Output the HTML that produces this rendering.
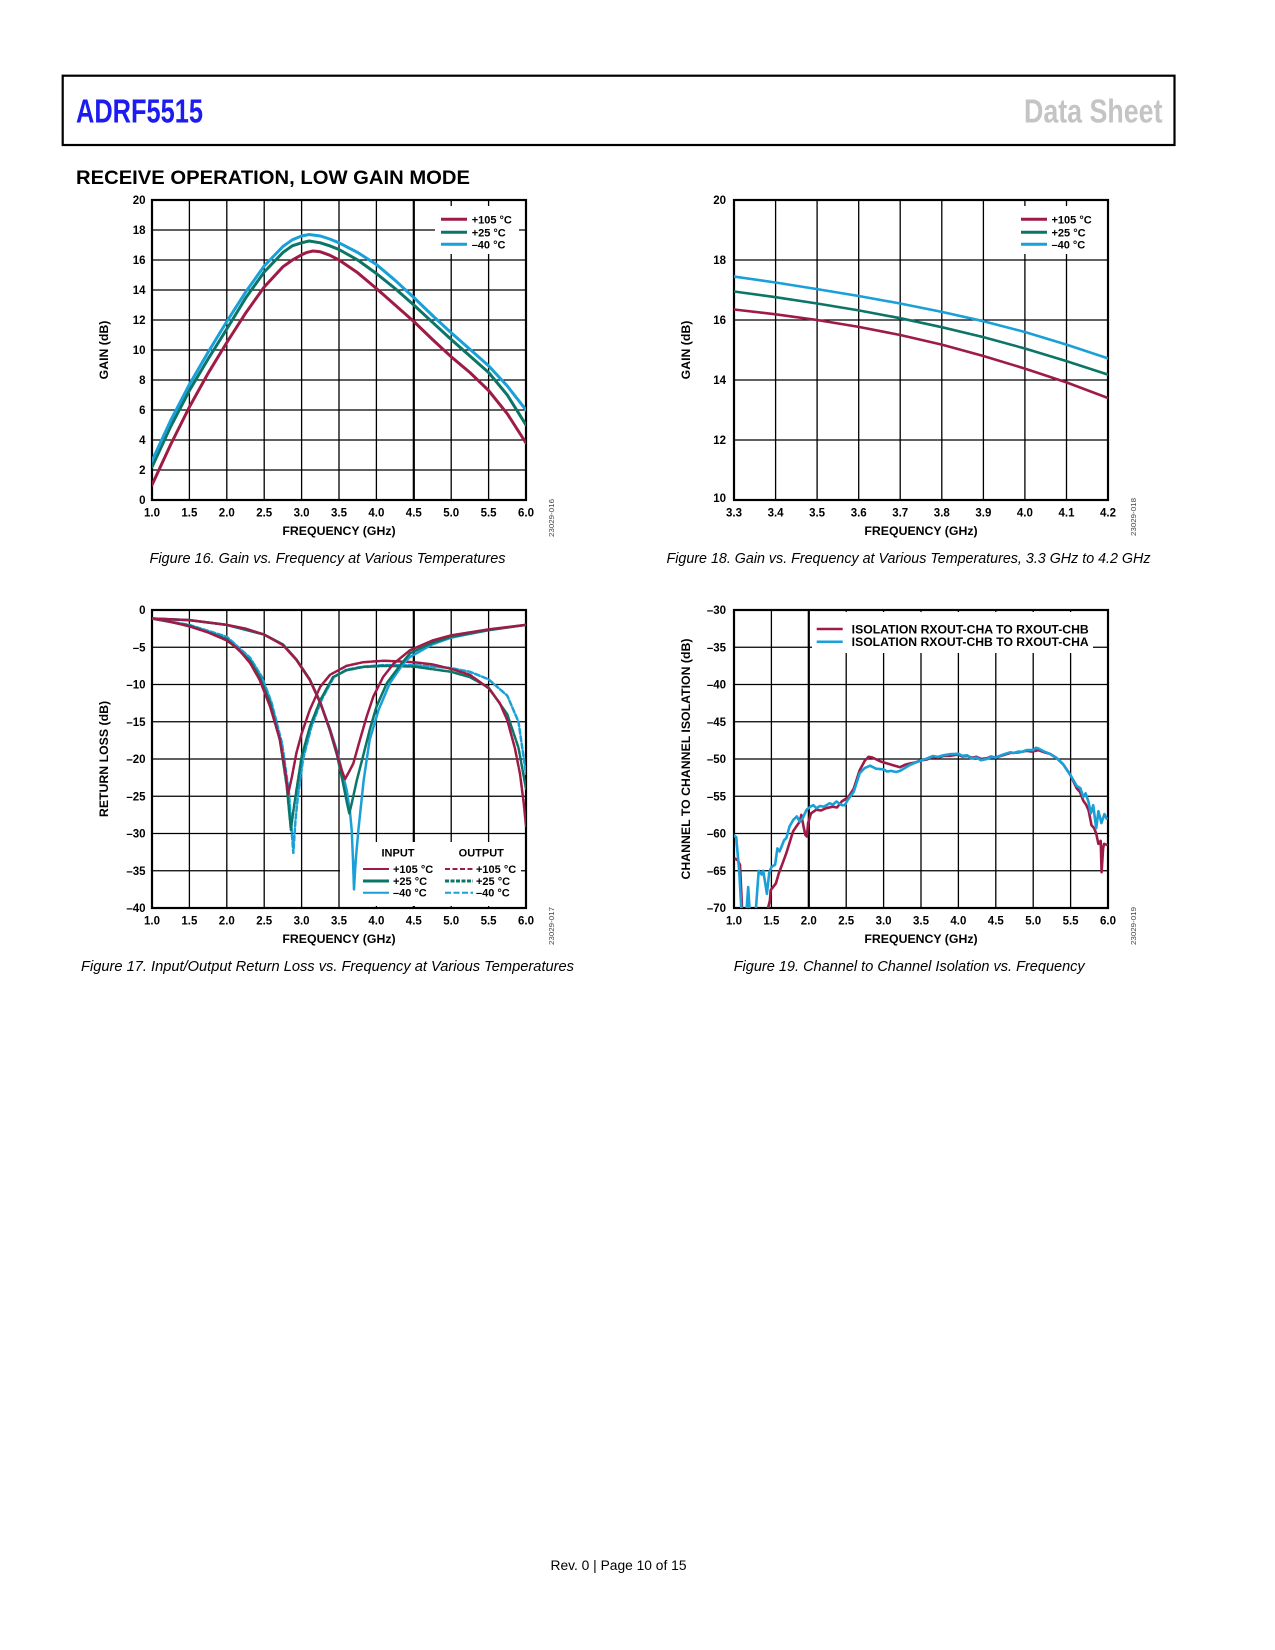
<!DOCTYPE html>
<html>
<head>
<meta charset="utf-8">
<style>
html,body{margin:0;padding:0;background:#fff;}
svg{display:block;}
text{font-family:"Liberation Sans",Arial,sans-serif;}
.tk{font-size:11.5px;font-weight:bold;fill:#000;}
.ax{font-size:12.3px;font-weight:bold;fill:#000;}
.lg{font-size:11px;font-weight:bold;fill:#000;}
.lg2{font-size:12px;font-weight:bold;fill:#000;}
.cap{font-size:14.5px;font-style:italic;fill:#000;}
.id{font-size:7.5px;fill:#444;}
.g{stroke:#000;stroke-width:1.3;fill:none;}
.gt{stroke:#000;stroke-width:2.2;fill:none;}
.fr{stroke:#000;stroke-width:2.2;fill:none;}
.c{fill:none;stroke-linejoin:round;stroke-linecap:round;}
</style>
</head>
<body>
<svg width="1275" height="1650" viewBox="0 0 1275 1650" xmlns="http://www.w3.org/2000/svg">
<defs>
<clipPath id="cp16"><rect x="152" y="200" width="374" height="300"/></clipPath>
<clipPath id="cp17"><rect x="152" y="610" width="374" height="298"/></clipPath>
<clipPath id="cp18"><rect x="734" y="200" width="374" height="300"/></clipPath>
<clipPath id="cp19"><rect x="734" y="610" width="374" height="298"/></clipPath>
</defs>
<rect x="0" y="0" width="1275" height="1650" fill="#fff"/>

<!-- Header -->
<rect x="62.7" y="75.7" width="1111.8" height="69.3" fill="none" stroke="#000" stroke-width="2.2"/>
<text x="76" y="122.7" font-size="33.5" font-weight="bold" fill="#1c1cf0" textLength="127" lengthAdjust="spacingAndGlyphs">ADRF5515</text>
<text x="1024" y="122.7" font-size="33.5" font-weight="bold" fill="#c4c4c4" textLength="138.5" lengthAdjust="spacingAndGlyphs">Data Sheet</text>
<text x="76" y="184" font-size="19" font-weight="bold" fill="#000" textLength="394" lengthAdjust="spacingAndGlyphs">RECEIVE OPERATION, LOW GAIN MODE</text>

<!-- ================= FIGURE 16 ================= -->
<g>
<path class="g" d="M189.4,200V500M226.8,200V500M264.2,200V500M301.6,200V500M339,200V500M376.4,200V500M451.2,200V500M488.6,200V500
M152,230H526M152,260H526M152,290H526M152,320H526M152,350H526M152,380H526M152,410H526M152,440H526M152,470H526"/>
<path class="gt" d="M413.8,200V500"/>
<rect x="435" y="206" width="84" height="48" fill="#fff"/>
<rect class="fr" x="152" y="200" width="374" height="300"/>
<g clip-path="url(#cp16)">
<polyline class="c" stroke="#9e1b46" stroke-width="3" points="152,485 170.7,444.5 189.4,407 208.1,373.3 226.8,342.5 245.5,313.3 264.2,287 282.9,266.8 292.3,260.1 301.6,254.8 307,252.4 312.8,251 320.3,251.8 329.7,255.2 339,260 357.7,272.8 376.4,288.5 395.1,305 413.8,321.5 432.5,339.5 451.2,356.8 469.9,372.5 488.6,390.5 507.3,413.8 526,443"/>
<polyline class="c" stroke="#0b7567" stroke-width="3" points="152,467 170.7,426.5 189.4,390.5 208.1,359 226.8,329 245.5,298.3 264.2,272 282.9,252.5 292.3,245.8 301.6,242.8 309.1,241 320.3,242.8 329.7,245.8 339,249.5 357.7,260 376.4,273.5 395.1,288.5 413.8,305 432.5,322.3 451.2,339.5 469.9,356 488.6,372.5 507.3,395 526,425"/>
<polyline class="c" stroke="#19a0d8" stroke-width="3" points="152,461 170.7,420.5 189.4,384.5 208.1,352.3 226.8,321.5 245.5,292.3 264.2,266 282.9,246.5 292.3,239.8 301.6,236 309.1,234.5 320.3,236 329.7,239 339,242.8 357.7,252.5 376.4,264.5 395.1,280.3 413.8,297.5 432.5,315.5 451.2,332.8 469.9,349.3 488.6,365.8 507.3,386 526,410"/>
</g>
<line x1="441" y1="219.3" x2="467" y2="219.3" stroke="#9e1b46" stroke-width="3"/>
<line x1="441" y1="232.3" x2="467" y2="232.3" stroke="#0b7567" stroke-width="3"/>
<line x1="441" y1="244.3" x2="467" y2="244.3" stroke="#19a0d8" stroke-width="3"/>
<text class="lg" x="471.7" y="223.3">+105 °C</text>
<text class="lg" x="471.7" y="236.3">+25 °C</text>
<text class="lg" x="471.7" y="248.3">–40 °C</text>
<g class="tk" text-anchor="end">
<text x="145.5" y="204">20</text><text x="145.5" y="234">18</text><text x="145.5" y="264">16</text><text x="145.5" y="294">14</text><text x="145.5" y="324">12</text><text x="145.5" y="354">10</text><text x="145.5" y="384">8</text><text x="145.5" y="414">6</text><text x="145.5" y="444">4</text><text x="145.5" y="474">2</text><text x="145.5" y="504">0</text>
</g>
<g class="tk" text-anchor="middle">
<text x="152" y="516.5">1.0</text><text x="189.4" y="516.5">1.5</text><text x="226.8" y="516.5">2.0</text><text x="264.2" y="516.5">2.5</text><text x="301.6" y="516.5">3.0</text><text x="339" y="516.5">3.5</text><text x="376.4" y="516.5">4.0</text><text x="413.8" y="516.5">4.5</text><text x="451.2" y="516.5">5.0</text><text x="488.6" y="516.5">5.5</text><text x="526" y="516.5">6.0</text>
</g>
<text class="ax" x="339" y="535" text-anchor="middle">FREQUENCY (GHz)</text>
<text class="ax" transform="translate(108,350) rotate(-90)" text-anchor="middle">GAIN (dB)</text>
<text class="id" transform="translate(554,537) rotate(-90)" textLength="38" lengthAdjust="spacingAndGlyphs">23029-016</text>
<text class="cap" x="149.5" y="563" textLength="356" lengthAdjust="spacingAndGlyphs">Figure 16. Gain vs. Frequency at Various Temperatures</text>
</g>

<!-- ================= FIGURE 18 ================= -->
<g>
<path class="g" d="M775.6,200V500M817.1,200V500M858.7,200V500M900.2,200V500M941.8,200V500M983.4,200V500M1024.9,200V500M1066.5,200V500
M734,260H1108M734,320H1108M734,380H1108M734,440H1108"/>
<rect x="1017" y="206" width="84" height="48" fill="#fff"/>
<rect class="fr" x="734" y="200" width="374" height="300"/>
<g clip-path="url(#cp18)">
<polyline class="c" stroke="#9e1b46" stroke-width="2.6" points="734,309.5 775.6,314.3 817.1,320 858.7,326.9 900.2,335 941.8,344.6 983.4,356 1024.9,368.6 1066.5,382.4 1108,398"/>
<polyline class="c" stroke="#0b7567" stroke-width="2.6" points="734,291.5 775.6,297.2 817.1,303.5 858.7,310.4 900.2,318.2 941.8,327.2 983.4,337.1 1024.9,348.5 1066.5,361.1 1108,374.6"/>
<polyline class="c" stroke="#19a0d8" stroke-width="2.6" points="734,276.5 775.6,282.5 817.1,289.1 858.7,296 900.2,303.5 941.8,311.9 983.4,321.2 1024.9,332 1066.5,344.6 1108,358.4"/>
</g>
<line x1="1021" y1="219.3" x2="1047" y2="219.3" stroke="#9e1b46" stroke-width="3"/>
<line x1="1021" y1="232.3" x2="1047" y2="232.3" stroke="#0b7567" stroke-width="3"/>
<line x1="1021" y1="244.3" x2="1047" y2="244.3" stroke="#19a0d8" stroke-width="3"/>
<text class="lg" x="1051.5" y="223.3">+105 °C</text>
<text class="lg" x="1051.5" y="236.3">+25 °C</text>
<text class="lg" x="1051.5" y="248.3">–40 °C</text>
<g class="tk" text-anchor="end">
<text x="726" y="204">20</text><text x="726" y="264">18</text><text x="726" y="324">16</text><text x="726" y="384">14</text><text x="726" y="444">12</text><text x="726" y="502">10</text>
</g>
<g class="tk" text-anchor="middle">
<text x="734" y="516.5">3.3</text><text x="775.6" y="516.5">3.4</text><text x="817.1" y="516.5">3.5</text><text x="858.7" y="516.5">3.6</text><text x="900.2" y="516.5">3.7</text><text x="941.8" y="516.5">3.8</text><text x="983.4" y="516.5">3.9</text><text x="1024.9" y="516.5">4.0</text><text x="1066.5" y="516.5">4.1</text><text x="1108" y="516.5">4.2</text>
</g>
<text class="ax" x="921" y="535" text-anchor="middle">FREQUENCY (GHz)</text>
<text class="ax" transform="translate(690,350) rotate(-90)" text-anchor="middle">GAIN (dB)</text>
<text class="id" transform="translate(1136,536) rotate(-90)" textLength="38" lengthAdjust="spacingAndGlyphs">23029-018</text>
<text class="cap" x="666.5" y="563" textLength="484" lengthAdjust="spacingAndGlyphs">Figure 18. Gain vs. Frequency at Various Temperatures, 3.3 GHz to 4.2 GHz</text>
</g>

<!-- ================= FIGURE 17 ================= -->
<g>
<path class="g" d="M189.4,610V908M226.8,610V908M264.2,610V908M301.6,610V908M339,610V908M376.4,610V908M451.2,610V908M488.6,610V908
M152,647.25H526M152,684.5H526M152,721.75H526M152,759H526M152,796.25H526M152,833.5H526M152,870.75H526"/>
<path class="gt" d="M413.8,610V908"/>
<rect x="340" y="842" width="181" height="64" fill="#fff"/>
<rect class="fr" x="152" y="610" width="374" height="298"/>
<g clip-path="url(#cp17)">
<polyline class="c" stroke="#19a0d8" stroke-width="2.5" stroke-dasharray="5 2.5" points="152,618.5 189.4,624.9 226.8,636.8 250,657.7 262,677.1 271.7,703.1 282.2,744.1 288.9,792.5 293.3,852.9 295.5,820 297.9,796.3 303.1,759 311.3,727 321.8,699.4 333.8,677.1 346.5,669.6 363,666.6 383.9,665.1 413.8,665.1 451.2,668.1 469.9,671.8 488.6,679.3 507.3,695.7 518.5,721.8 526,773.9"/>
<polyline class="c" stroke="#0b7567" stroke-width="2.5" stroke-dasharray="6 1.5" points="152,618.5 189.4,625.6 226.8,639.1 250,660.7 259.7,677.1 270.2,703.1 279.9,740.4 286.6,785.1 290.9,829.8 293.5,810 296.4,790.3 301.6,756.8 309.8,727 320.3,700.1 333,677.1 346.5,670.3 363,667 383.9,665.9 413.8,666.6 451.2,671.8 469.9,677.1 488.6,687.5 507.3,714.3 518.5,747.8 526,788.8"/>
<polyline class="c" stroke="#9e1b46" stroke-width="2.5" stroke-dasharray="9 1.5" points="152,618.5 170.7,621.9 189.4,626.4 208.1,632.4 226.8,640.5 238,648.7 250,662.9 259.7,680 270.2,706.9 279.9,739.6 285.1,770.2 288.1,794 291.9,776.9 296.4,753 301.6,733.7 309.8,709.8 320.3,686.7 330,674.8 346.5,665.9 363,662.2 383.9,660.7 413.8,662.2 432.5,664.4 451.2,668.9 469.9,674.8 488.6,688.2 499.8,703.1 507.3,720.3 514.8,747.8 520,773.9 523.8,803.7 526,826"/>
<polyline class="c" stroke="#19a0d8" stroke-width="2.5" points="152,618.5 189.4,620.1 226.8,624.9 264.2,634.6 282.9,644.5 296.4,659.5 309.8,679.5 320.3,702 330,729 337,751 342,771 346.7,790 350,812 351.7,830 353,860 354,889.4 355.2,868 356.1,855.9 358.4,829.8 363.7,779.9 369.7,739.6 378.6,709.8 389.9,683 403.3,663.6 410.1,656.9 432.5,644.3 451.2,637.6 488.6,630.1 526,624.9"/>
<polyline class="c" stroke="#0b7567" stroke-width="2.5" points="152,618.5 189.4,620.1 226.8,624.9 264.2,634.6 282.9,644.5 296.4,659.5 309.8,679.5 320.3,702.5 330,731 337,755 343,783 347,803 349.3,813.4 351.8,803 356.9,779.9 362.9,756.8 369.7,729.9 376.4,706.9 386.9,683 400.3,665.1 410.1,653.2 432.5,642.8 451.2,636.8 488.6,630.1 526,624.9"/>
<polyline class="c" stroke="#9e1b46" stroke-width="2.5" points="152,618.5 189.4,620.1 226.8,624.9 245.5,628.6 264.2,634.6 282.9,645 296.4,659.9 309.8,680 320.3,703.1 330,730 336.8,753 341.2,768.7 345,779.1 348.7,772.4 353.3,763.5 360,739.6 366.7,716.5 373.4,696.4 383.1,677 393.6,663.6 410.1,650.2 432.5,640.5 451.2,635.3 488.6,629.4 526,624.9"/>
</g>
<text class="lg" x="398" y="856.7" text-anchor="middle">INPUT</text>
<text class="lg" x="481.3" y="856.7" text-anchor="middle">OUTPUT</text>
<line x1="363" y1="869" x2="389" y2="869" stroke="#9e1b46" stroke-width="2"/>
<line x1="363" y1="881" x2="389" y2="881" stroke="#0b7567" stroke-width="3"/>
<line x1="363" y1="892.7" x2="389" y2="892.7" stroke="#19a0d8" stroke-width="2"/>
<line x1="445" y1="869" x2="473" y2="869" stroke="#9e1b46" stroke-width="2" stroke-dasharray="5 2.5"/>
<line x1="445" y1="881" x2="473" y2="881" stroke="#0b7567" stroke-width="3" stroke-dasharray="4 1.5"/>
<line x1="445" y1="892.7" x2="473" y2="892.7" stroke="#19a0d8" stroke-width="2" stroke-dasharray="6 2.5"/>
<text class="lg" x="393" y="873">+105 °C</text>
<text class="lg" x="393" y="885">+25 °C</text>
<text class="lg" x="393" y="896.7">–40 °C</text>
<text class="lg" x="476" y="873">+105 °C</text>
<text class="lg" x="476" y="885">+25 °C</text>
<text class="lg" x="476" y="896.7">–40 °C</text>
<g class="tk" text-anchor="end">
<text x="145.5" y="614">0</text><text x="145.5" y="651.25">–5</text><text x="145.5" y="688.5">–10</text><text x="145.5" y="725.75">–15</text><text x="145.5" y="763">–20</text><text x="145.5" y="800.25">–25</text><text x="145.5" y="837.5">–30</text><text x="145.5" y="874.75">–35</text><text x="145.5" y="912">–40</text>
</g>
<g class="tk" text-anchor="middle">
<text x="152" y="924.5">1.0</text><text x="189.4" y="924.5">1.5</text><text x="226.8" y="924.5">2.0</text><text x="264.2" y="924.5">2.5</text><text x="301.6" y="924.5">3.0</text><text x="339" y="924.5">3.5</text><text x="376.4" y="924.5">4.0</text><text x="413.8" y="924.5">4.5</text><text x="451.2" y="924.5">5.0</text><text x="488.6" y="924.5">5.5</text><text x="526" y="924.5">6.0</text>
</g>
<text class="ax" x="339" y="943" text-anchor="middle">FREQUENCY (GHz)</text>
<text class="ax" transform="translate(108,759) rotate(-90)" text-anchor="middle">RETURN LOSS (dB)</text>
<text class="id" transform="translate(554,945) rotate(-90)" textLength="38" lengthAdjust="spacingAndGlyphs">23029-017</text>
<text class="cap" x="81" y="971" textLength="493" lengthAdjust="spacingAndGlyphs">Figure 17. Input/Output Return Loss vs. Frequency at Various Temperatures</text>
</g>

<!-- ================= FIGURE 19 ================= -->
<g>
<path class="g" d="M771.4,610V908M846.2,610V908M883.6,610V908M921,610V908M958.4,610V908M995.8,610V908M1033.2,610V908M1070.6,610V908
M734,647.25H1108M734,684.5H1108M734,721.75H1108M734,759H1108M734,796.25H1108M734,833.5H1108M734,870.75H1108"/>
<path class="gt" d="M808.8,610V908"/>
<rect x="812" y="612" width="281" height="41" fill="#fff"/>
<rect class="fr" x="734" y="610" width="374" height="298"/>
<g clip-path="url(#cp19)">
<polyline class="c" stroke="#9e1b46" stroke-width="2.6" points="735.5,858.8 737.7,860.3 740,864.8 742.2,911.7 745.2,930 766.9,930 768.4,906.5 769.9,900.6 770.7,890.1 775.9,883.4 778.9,873 782.6,863.3 786.4,852.9 789.4,843.2 793.1,831.3 796.1,826.8 799.8,821.6 801.3,814.9 803.6,826.8 805.4,835 806.9,836.5 808.1,823.1 811,813.4 816.3,809.7 821,810.5 826,808.2 832.7,806.7 837,807.5 841.7,801.5 848.4,797 853.7,788.8 859.7,770.2 864.9,760.5 868.6,756.8 872.4,757.5 879.9,761.2 887.3,763.5 894.8,765.7 900.1,767.2 905,764.8 909.8,763.5 915,762.5 921,760.5 927,759.5 933,756.8 938,757.6 943.4,756 950,755.8 958.4,754.5 962,756.5 967.4,756 972,757.8 976.4,756.8 981,758.9 986.8,758.3 991,756.6 995.8,757.5 1003,755.2 1010.1,753 1018,752.5 1026.5,750.8 1032,751.6 1038.4,750.1 1044,752.2 1049.7,753.8 1056,757.6 1063.1,764.2 1070.6,775.4 1076.6,788.1 1080,792 1083.3,800.7 1086,804.5 1088.6,810.4 1091.5,825.3 1094,828 1096.2,833.5 1098.4,843.9 1100.7,840.9 1101.6,872.2 1103.1,848.4 1104,843.9 1106.6,844.7"/>
<polyline class="c" stroke="#19a0d8" stroke-width="2.6" points="734,835.7 736.2,837.2 739.2,870.8 741.5,911.7 743.7,922.9 746.7,908 748.2,887.1 749.7,911.7 752.7,922.9 755.7,911.7 758.7,870.8 761.7,874.5 763.2,870.8 765.4,884.2 766.9,893.8 769.2,873 771.4,867 775.1,864.8 777.4,848.4 779.6,851.4 784.1,840.2 786.4,838 789.4,826.8 793.1,820.1 796.8,816.4 799.8,821.6 802.8,817.9 806.6,809.7 810.3,806.7 813.3,805.2 816.3,808.2 820,806 823.8,806.7 829.7,803.3 833,804.5 836.5,801.5 841.7,805.2 844.7,805.2 847.7,800 853.7,791.8 859.7,773.2 864.9,767.9 870.1,765.7 876.1,768.7 883.6,769.4 887,771.5 891.1,770.9 896,772 900.1,770.9 904,768.5 909.8,765 915,762.8 921,760.5 927,758.5 933,756 938,756.9 943.4,755.3 950,754.2 958.4,753.8 962,755.8 967.4,755.3 971,758.5 976.4,757.5 981,760.2 986.8,759 991,757.2 995.8,757.5 1003.3,754.5 1010.1,752.3 1014,753 1018.3,751.6 1022,751.8 1026.5,750.1 1033.2,750.1 1036,747.8 1038.4,748.5 1044.4,751.6 1049.7,753.8 1057.1,758.3 1063.1,764.2 1070.6,775.4 1076.6,785.8 1080.3,788.1 1083.3,797 1085.6,793.3 1088.6,802.2 1090.8,813.4 1093.2,805.2 1096.2,828.3 1098.4,811.2 1101.4,823.1 1104.4,814.1 1106.6,818.6"/>
</g>
<line x1="816.7" y1="629" x2="842.7" y2="629" stroke="#9e1b46" stroke-width="2.5"/>
<line x1="816.7" y1="641.7" x2="842.7" y2="641.7" stroke="#19a0d8" stroke-width="2.5"/>
<text class="lg2" x="851.7" y="633.3" textLength="237" lengthAdjust="spacingAndGlyphs">ISOLATION RXOUT-CHA TO RXOUT-CHB</text>
<text class="lg2" x="851.7" y="646" textLength="237" lengthAdjust="spacingAndGlyphs">ISOLATION RXOUT-CHB TO RXOUT-CHA</text>
<g class="tk" text-anchor="end">
<text x="726" y="614">–30</text><text x="726" y="651.25">–35</text><text x="726" y="688.5">–40</text><text x="726" y="725.75">–45</text><text x="726" y="763">–50</text><text x="726" y="800.25">–55</text><text x="726" y="837.5">–60</text><text x="726" y="874.75">–65</text><text x="726" y="912">–70</text>
</g>
<g class="tk" text-anchor="middle">
<text x="734" y="924.5">1.0</text><text x="771.4" y="924.5">1.5</text><text x="808.8" y="924.5">2.0</text><text x="846.2" y="924.5">2.5</text><text x="883.6" y="924.5">3.0</text><text x="921" y="924.5">3.5</text><text x="958.4" y="924.5">4.0</text><text x="995.8" y="924.5">4.5</text><text x="1033.2" y="924.5">5.0</text><text x="1070.6" y="924.5">5.5</text><text x="1108" y="924.5">6.0</text>
</g>
<text class="ax" x="921" y="943" text-anchor="middle">FREQUENCY (GHz)</text>
<text class="ax" transform="translate(690,759) rotate(-90)" text-anchor="middle">CHANNEL TO CHANNEL ISOLATION (dB)</text>
<text class="id" transform="translate(1136,945) rotate(-90)" textLength="38" lengthAdjust="spacingAndGlyphs">23029-019</text>
<text class="cap" x="733.7" y="971" textLength="351" lengthAdjust="spacingAndGlyphs">Figure 19. Channel to Channel Isolation vs. Frequency</text>
</g>

<!-- Footer -->
<text x="550.5" y="1570" font-size="13.5" fill="#000" textLength="136" lengthAdjust="spacingAndGlyphs">Rev. 0 | Page 10 of 15</text>
</svg>
</body>
</html>
